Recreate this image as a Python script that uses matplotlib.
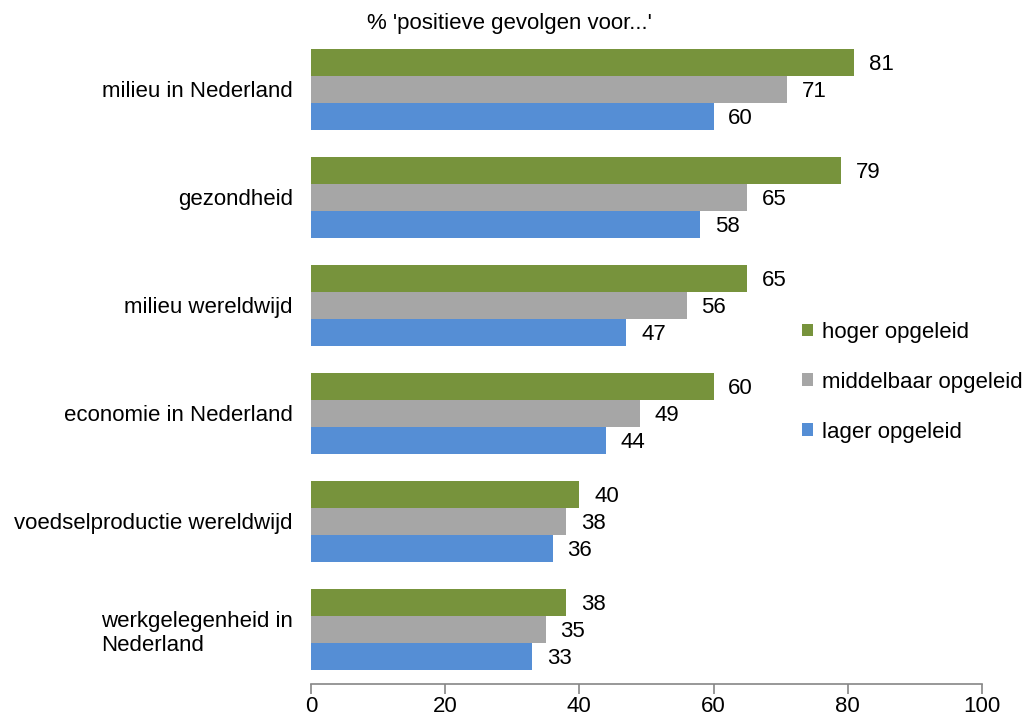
import matplotlib
matplotlib.use("Agg")
import matplotlib.pyplot as plt
from matplotlib.patches import Patch
import numpy as np

plt.rcParams['font.family'] = ['Liberation Sans', 'DejaVu Sans']

categories = ["milieu in Nederland", "gezondheid", "milieu wereldwijd",
              "economie in Nederland", "voedselproductie wereldwijd",
              "werkgelegenheid in\nNederland"]
hoger = [81, 79, 65, 60, 40, 38]
middelbaar = [71, 65, 56, 49, 38, 35]
lager = [60, 58, 47, 44, 36, 33]
series_names = ["hoger opgeleid", "middelbaar opgeleid", "lager opgeleid"]
colors = ["#77933C", "#A6A6A6", "#558ED5"]
title = "% 'positieve gevolgen voor...'"

fig = plt.figure(figsize=(10.25, 7.21), dpi=100)
ax = fig.add_axes([0.3034, 0.052, 0.6546, 0.899])

y = np.arange(len(categories))
h = 0.252
for i, (vals, c) in enumerate(zip([hoger, middelbaar, lager], colors)):
    pos = y + (i - 1) * h
    ax.barh(pos, vals, height=h, color=c, edgecolor='none')
    for yy, v in zip(pos, vals):
        ax.text(v + 2.2, yy + 0.02, str(v), va='center', ha='left', fontsize=16)

ax.set_ylim(len(categories) - 0.5, -0.5)
ax.set_xlim(0, 100)
ax.set_yticks(y)
ax.set_yticklabels(categories, fontsize=16, multialignment='left')
ax.tick_params(axis='y', length=0, pad=13)
ax.set_xticks([0, 20, 40, 60, 80, 100])
ax.tick_params(axis='x', labelsize=16, length=7, width=1.2, color='#868686', pad=2)
for s in ['left', 'top', 'right']:
    ax.spines[s].set_visible(False)
ax.spines['bottom'].set_color('#868686')
ax.spines['bottom'].set_linewidth(1.2)

fig.text(0.497, 0.968, title, ha='center', va='center', fontsize=16)

handles = [Patch(facecolor=c, edgecolor='none') for c in colors]
fig.legend(handles, series_names, loc='center left', bbox_to_anchor=(0.782, 0.470),
           frameon=False, fontsize=16, handlelength=0.5, handleheight=0.5,
           handletextpad=0.4, labelspacing=1.3, borderaxespad=0, borderpad=0)

fig.savefig("out.png", dpi=100)
